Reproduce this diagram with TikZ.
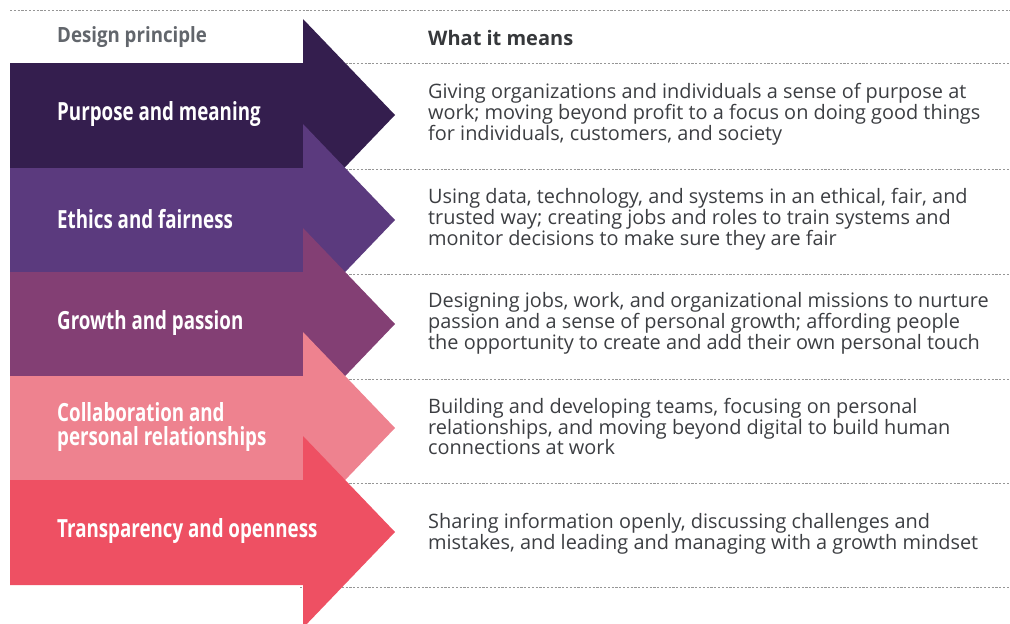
\documentclass[tikz,border=0pt]{standalone}
\usepackage{fontspec}
\setmainfont{Open Sans}
\newfontfamily\cond[FakeStretch=0.75]{Open Sans}
\newfontfamily\condh[FakeStretch=0.89]{Open Sans}
\definecolor{cA}{RGB}{52,30,78}
\definecolor{cB}{RGB}{91,58,126}
\definecolor{cC}{RGB}{131,63,116}
\definecolor{cD}{RGB}{238,130,143}
\definecolor{cE}{RGB}{238,80,99}
\definecolor{bodytxt}{RGB}{60,62,66}
\definecolor{headtxt}{RGB}{98,102,108}
\definecolor{rule}{RGB}{150,150,150}
\tikzset{
  rowline/.style={draw=rule, line width=0.9pt, dash pattern=on 2.2pt off 1.6pt},
  lbl/.style={anchor=west, align=left, text=white, font=\cond\bfseries\fontsize{25}{25}\selectfont, inner sep=0pt},
  desc/.style={anchor=west, align=left, text=bodytxt, font=\fontsize{19.9}{20.8}\selectfont, inner sep=0pt},
}
\begin{document}
\begin{tikzpicture}[x=1pt,y=-1pt]
\useasboundingbox (0,0) rectangle (1010,624);
% rules
\coordinate (r0a) at (10,10); \coordinate (r0b) at (1010,10);
\draw[rowline] (r0a) -- (r0b);
\foreach \y in {63,169,274,379,483,587} {
  \draw[rowline] (300,\y) -- (1010,\y);
}
% arrows
\foreach \T/\c in {63/cA,168/cB,272/cC,376/cD,480/cE} {
  \fill[\c] (10,\T) -- (303,\T) -- (303,\T-44) -- (395,\T+52) -- (303,\T+148)
     -- (303,\T+105) -- (10,\T+105) -- cycle;
}
% headers
\node[anchor=west, inner sep=0pt, text=headtxt, font=\condh\bfseries\fontsize{21}{21}\selectfont] (h1) at (57,37) {Design principle};
\node[anchor=west, inner sep=0pt, text=bodytxt!90!black, font=\bfseries\fontsize{20}{20}\selectfont] (h2) at (428,38) {What it means};
% labels
\node[lbl] (l1) at (57,114) {Purpose and meaning};
\node[lbl] (l2) at (57,219) {Ethics and fairness};
\node[lbl] (l3) at (57,323) {Growth and passion};
\node[lbl, font=\cond\bfseries\fontsize{25}{24}\selectfont] (l4) at (57,427) {Collaboration and\\personal relationships};
\node[lbl] (l5) at (57,531) {Transparency and openness};
% descriptions
\node[desc] (d1) at (428,114.5) {Giving organizations and individuals a sense of purpose at\\work; moving beyond profit to a focus on doing good things\\for individuals, customers, and society};
\node[desc] (d2) at (428,219.5) {Using data, technology, and systems in an ethical, fair, and\\trusted way; creating jobs and roles to train systems and\\monitor decisions to make sure they are fair};
\node[desc] (d3) at (428,323.5) {Designing jobs, work, and organizational missions to nurture\\passion and a sense of personal growth; affording people\\the opportunity to create and add their own personal touch};
\node[desc] (d4) at (428,426.5) {Building and developing teams, focusing on personal\\relationships, and moving beyond digital to build human\\connections at work};
\node[desc] (d5) at (428,533.5) {Sharing information openly, discussing challenges and\\mistakes, and leading and managing with a growth mindset};
\end{tikzpicture}
\end{document}
